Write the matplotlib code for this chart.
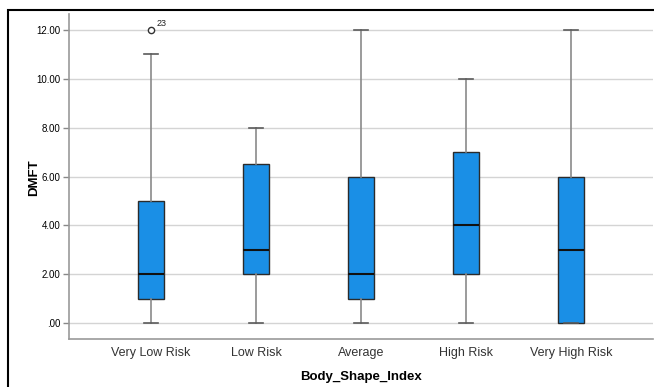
import matplotlib.pyplot as plt
from matplotlib.patches import Rectangle
from matplotlib.ticker import FuncFormatter

plt.rcParams['font.family'] = ['Liberation Sans', 'DejaVu Sans']

categories = ['Very Low Risk', 'Low Risk', 'Average', 'High Risk', 'Very High Risk']
whislo = [0, 0, 0, 0, 0]
q1 = [1, 2, 1, 2, 0]
med = [2, 3, 2, 4, 3]
q3 = [5, 6.5, 6, 7, 6]
whishi = [11, 8, 12, 10, 12]
outliers = [[12], [], [], [], []]
outlier_ids = [['23'], [], [], [], []]


def fmt_y(v, pos):
    s = '%.2f' % v
    return s[1:] if s.startswith('0') else s


fig = plt.figure(figsize=(6.54, 3.87), dpi=100)
ax = fig.add_axes([0.1055, 0.124, 0.893, 0.84])

stats = []
for i in range(len(categories)):
    stats.append(dict(label=categories[i], whislo=whislo[i], q1=q1[i], med=med[i],
                      q3=q3[i], whishi=whishi[i], fliers=outliers[i]))

ax.bxp(stats, positions=range(1, 6), widths=0.25, patch_artist=True,
       boxprops=dict(facecolor='#1a8fe6', edgecolor='#2b2b2b', linewidth=1.0),
       medianprops=dict(color='#111111', linewidth=1.5),
       whiskerprops=dict(color='#8a8a8a', linewidth=1.2),
       capprops=dict(color='#5a5a5a', linewidth=1.2),
       capwidths=0.13,
       flierprops=dict(marker='o', markersize=4.5, markerfacecolor='white',
                       markeredgecolor='#333333', markeredgewidth=1.0),
       zorder=3)

for i in range(len(categories)):
    for v, lab in zip(outliers[i], outlier_ids[i]):
        ax.annotate(lab, (i + 1, v), xytext=(4, 3), textcoords='offset points',
                    fontsize=6.5, color='#222222')

ax.set_xlim(0.22, 5.78)
ax.set_ylim(-0.655, 12.66)
ax.set_yticks([0, 2, 4, 6, 8, 10, 12])
ax.yaxis.set_major_formatter(FuncFormatter(fmt_y))
ax.yaxis.grid(True, color='#d4d4d4', linewidth=1.0, zorder=0)
ax.set_axisbelow(True)

ax.tick_params(axis='y', labelsize=7, length=4, color='#888888', width=1, pad=2)
ax.tick_params(axis='x', labelsize=9, length=0, pad=6, labelcolor='#333333')

for s in ['top', 'right']:
    ax.spines[s].set_visible(False)
for s in ['left', 'bottom']:
    ax.spines[s].set_color('#999999')
    ax.spines[s].set_linewidth(1.2)

ax.set_ylabel('DMFT', fontsize=9.5, fontweight='bold')
ax.set_xlabel('Body_Shape_Index', fontsize=9.5, fontweight='bold')
ax.yaxis.set_label_coords(-0.05, 0.495)
ax.xaxis.set_label_coords(0.5, -0.098)

# outer frame, cut at right and bottom like the screenshot
fig.patches.append(Rectangle((8 / 654, -0.1), 1.2, 1 - 10 / 387 + 0.1,
                             transform=fig.transFigure, fill=False,
                             edgecolor='black', linewidth=1.5))

fig.savefig('out.png', dpi=100)
